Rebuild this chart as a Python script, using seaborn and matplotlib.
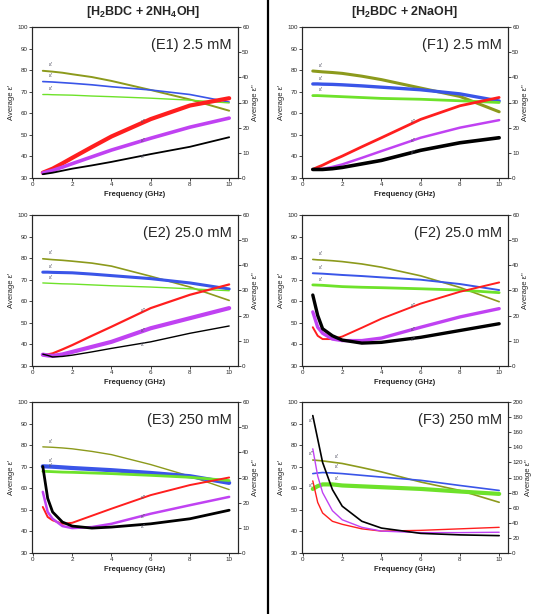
import matplotlib
matplotlib.use("Agg")
import matplotlib.pyplot as plt
from matplotlib.lines import Line2D
import seaborn as sns

# frequency points (GHz) shared by all panels
freq = [0.5, 0.75, 1, 1.5, 2, 3, 4, 6, 8, 10]

# ---- E column: [H2BDC + 2NH4OH] ----
e1_olive = [79.7, 79.5, 79.3, 78.8, 78.1, 76.8, 75.0, 70.8, 66.4, 61.2]
e1_blue = [74.7, 74.6, 74.5, 74.2, 73.9, 73.2, 72.3, 70.8, 68.7, 65.2]
e1_green = [68.7, 68.7, 68.6, 68.5, 68.4, 68.0, 67.7, 67.0, 66.1, 64.8]
e1_red = [2.1, 2.9, 3.7, 5.8, 8.0, 12.3, 16.5, 23.4, 28.8, 31.7]
e1_mag = [2.0, 2.5, 3.0, 4.3, 5.7, 8.4, 11.1, 15.8, 20.2, 23.8]
e1_black = [1.5, 1.8, 2.1, 2.9, 3.7, 5.0, 6.4, 9.5, 12.4, 16.2]

e2_olive = [79.7, 79.5, 79.3, 79.0, 78.6, 77.7, 76.3, 71.6, 66.6, 60.4]
e2_blue = [73.5, 73.5, 73.4, 73.3, 73.2, 72.6, 71.9, 70.5, 68.5, 65.7]
e2_green = [68.5, 68.4, 68.3, 68.1, 68.0, 67.6, 67.2, 66.6, 65.8, 64.9]
e2_red = [4.3, 4.6, 5.0, 6.6, 8.3, 12.0, 15.6, 23.0, 28.3, 32.4]
e2_mag = [4.5, 4.2, 4.0, 4.6, 5.6, 7.6, 9.6, 15.0, 19.0, 23.0]
e2_black = [4.7, 4.2, 3.6, 3.8, 4.3, 5.6, 7.0, 9.6, 13.0, 15.9]

e3_olive = [79.2, 79.1, 79.0, 78.7, 78.3, 77.1, 75.6, 71.0, 65.6, 59.4]
e3_blue = [70.2, 70.1, 70.0, 69.7, 69.4, 68.9, 68.4, 67.1, 65.6, 62.5]
e3_green = [67.9, 67.8, 67.7, 67.5, 67.4, 67.1, 66.8, 66.0, 65.1, 63.6]
e3_red = [18.3, 14.3, 13.0, 11.6, 12.0, 14.8, 17.6, 23.0, 27.0, 30.0]
e3_mag = [24.3, 16.3, 13.6, 10.7, 9.9, 10.3, 11.6, 15.6, 19.0, 22.3]
e3_black = [34.4, 21.7, 16.3, 12.3, 10.7, 9.9, 10.3, 11.6, 13.6, 17.0]

# ---- F column: [H2BDC + 2NaOH] ----
f1_olive = [79.6, 79.4, 79.2, 78.9, 78.5, 77.2, 75.6, 71.7, 67.8, 60.7]
f1_blue = [73.6, 73.6, 73.5, 73.4, 73.2, 72.7, 72.1, 70.9, 69.0, 65.7]
f1_green = [68.2, 68.2, 68.1, 67.9, 67.7, 67.3, 66.9, 66.5, 65.8, 65.0]
f1_red = [3.4, 4.3, 5.1, 7.0, 8.7, 12.4, 16.0, 23.3, 28.7, 32.0]
f1_mag = [3.4, 3.5, 3.6, 4.4, 5.4, 8.0, 10.7, 16.0, 20.0, 23.0]
f1_black = [3.4, 3.4, 3.4, 3.7, 4.2, 5.6, 7.0, 11.0, 14.0, 16.0]

f2_olive = [79.4, 79.2, 79.1, 78.8, 78.4, 77.3, 75.8, 71.8, 66.4, 59.8]
f2_blue = [73.0, 72.9, 72.8, 72.5, 72.2, 71.7, 71.1, 70.0, 68.0, 65.2]
f2_green = [67.6, 67.5, 67.4, 67.1, 66.8, 66.5, 66.3, 65.8, 65.2, 64.0]
f2_red = [15.4, 12.0, 10.7, 10.7, 11.7, 15.2, 18.8, 24.8, 29.5, 33.2]
f2_mag = [21.5, 15.4, 13.0, 10.7, 10.1, 10.1, 11.1, 15.4, 19.5, 22.8]
f2_black = [28.2, 20.1, 14.8, 12.0, 10.3, 9.1, 9.4, 11.4, 14.1, 16.8]

f3_olive = [73.1, 72.9, 72.7, 72.1, 71.5, 69.6, 67.6, 62.9, 59.0, 53.5]
f3_blue = [66.8, 67.1, 67.3, 67.1, 66.8, 66.0, 65.2, 63.7, 61.3, 59.0]
f3_green = [59.7, 61.0, 61.8, 61.8, 61.3, 60.9, 60.5, 59.7, 58.5, 57.4]
f3_red = [95.5, 67, 53, 42, 38, 32, 29, 30, 32, 34]
f3_mag = [138, 102, 80, 56, 44, 34, 29, 27, 27, 27.5]
f3_black = [182, 151, 120, 84, 62, 42, 33, 26, 24, 23]

panel_labels = ["(E1) 2.5 mM", "(E2) 25.0 mM", "(E3) 250 mM",
                "(F1) 2.5 mM", "(F2) 25.0 mM", "(F3) 250 mM"]
col_titles = ["[H$_2$BDC + 2NH$_4$OH]", "[H$_2$BDC + 2NaOH]"]

OLIVE, BLUE, GREEN = "#8c9a1c", "#3a55e8", "#6ee22a"
RED, MAG, BLACK = "#ff1e1e", "#c042f2", "#000000"

sns.set_style("ticks")
plt.rcParams["font.family"] = ["Liberation Sans", "DejaVu Sans"]
plt.rcParams["mathtext.fontset"] = "custom"
plt.rcParams["mathtext.rm"] = "Liberation Sans:bold"
plt.rcParams["mathtext.bf"] = "Liberation Sans:bold"

fig = plt.figure(figsize=(5.38, 6.14), dpi=100)

panels = [
    (e1_olive, e1_blue, e1_green, e1_red, e1_mag, e1_black, 60),
    (e2_olive, e2_blue, e2_green, e2_red, e2_mag, e2_black, 60),
    (e3_olive, e3_blue, e3_green, e3_red, e3_mag, e3_black, 60),
    (f1_olive, f1_blue, f1_green, f1_red, f1_mag, f1_black, 60),
    (f2_olive, f2_blue, f2_green, f2_red, f2_mag, f2_black, 60),
    (f3_olive, f3_blue, f3_green, f3_red, f3_mag, f3_black, 200),
]
# line widths per panel: olive, blue, green, red, magenta, black
widths = [
    (1.4, 1.2, 1.0, 3.0, 2.6, 1.3),
    (1.2, 2.2, 1.0, 1.6, 3.0, 1.0),
    (1.0, 3.0, 2.0, 1.4, 1.8, 2.0),
    (2.2, 2.4, 2.0, 2.0, 1.8, 2.6),
    (1.2, 1.4, 2.0, 1.4, 2.4, 2.4),
    (1.2, 1.2, 3.0, 1.0, 1.0, 1.2),
]

lefts = [32 / 538, 302 / 538]
bottoms = [1 - 178 / 614, 1 - 366 / 614, 1 - 553 / 614]
w, h = 206 / 538, 151 / 614

for i, (olive, blue, green, red, mag, black, rmax) in enumerate(panels):
    col, row = divmod(i, 3)
    ax = fig.add_axes([lefts[col], bottoms[row], w, h])
    ax2 = ax.twinx()
    lw = widths[i]
    for ys, c, l in zip([olive, blue, green], [OLIVE, BLUE, GREEN], lw[:3]):
        sns.lineplot(x=freq, y=ys, ax=ax, color=c, lw=l)
    for ys, c, l in zip([red, mag, black], [RED, MAG, BLACK], lw[3:]):
        sns.lineplot(x=freq, y=ys, ax=ax2, color=c, lw=l)

    ax.set_xlim(-0.05, 10.45)
    ax.set_ylim(30, 100)
    ax2.set_ylim(0, rmax)
    ax.set_xticks([0, 2, 4, 6, 8, 10])
    ax.set_yticks(range(30, 101, 10))
    ax2.set_yticks(range(0, rmax + 1, 10 if rmax == 60 else 20))
    for a in (ax, ax2):
        a.tick_params(labelsize=4.5, length=2, width=0.6, pad=1)
        for s in a.spines.values():
            s.set_linewidth(0.8)
    ax.set_xlabel("Frequency (GHz)", fontsize=5.5, fontweight="bold", labelpad=3)
    ax.set_ylabel("Average ε'", fontsize=5.5, labelpad=2)
    ax2.set_ylabel("Average ε''", fontsize=5.5, labelpad=2)
    ax.text(0.97, 0.93, panel_labels[i], transform=ax.transAxes,
            ha="right", va="top", fontsize=10.5)

    # small epsilon tags next to curves
    if i != 5:
        for ys in (olive, blue, green):
            ax.text(0.8, ys[0] + 2.0, "ε'", fontsize=4.5, color="#556")
        for ys in (red, mag, black):
            ax2.text(5.5, ys[7] - 1.5, "ε''", fontsize=4.5, color="#556")
    else:
        for ys in (olive, blue, green):
            ax.text(1.6, ys[4] + 2.5, "ε'", fontsize=4.5, color="#556")
        for ys in (black, mag, red):
            ax2.text(0.3, ys[0] - 8, "ε''", fontsize=4.5, color="#556")

for col in range(2):
    fig.text(lefts[col] + w / 2 + (0.015 if col == 0 else 0.0), 1 - 12 / 614,
             col_titles[col], ha="center", va="center",
             fontsize=9, fontweight="bold")

fig.add_artist(Line2D([268 / 538, 268 / 538], [0, 1], color="black", lw=1.6))

fig.savefig("out.png", dpi=100)
